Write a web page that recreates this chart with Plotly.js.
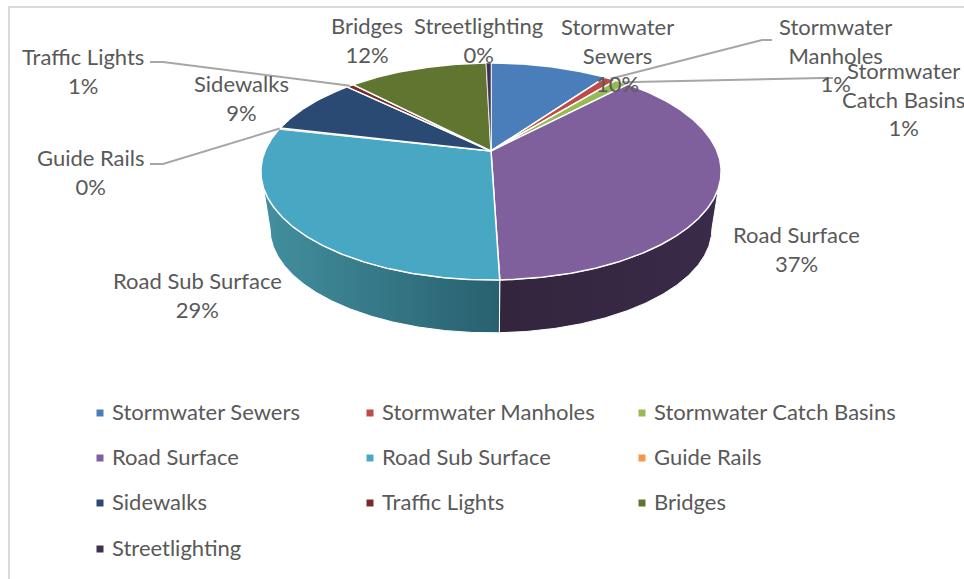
<!DOCTYPE html>
<html><head><meta charset="utf-8">
<script src="https://cdn.plot.ly/plotly-3.0.1.min.js"></script>
<style>html,body{margin:0;padding:0;background:#fff}#c{width:964px;height:579px}</style></head>
<body><div id="c"></div>
<script>
// Data
const categories = ['Stormwater Sewers','Stormwater Manholes','Stormwater Catch Basins','Road Surface','Road Sub Surface','Guide Rails','Sidewalks','Traffic Lights','Bridges','Streetlighting'];
const values = [9.9,1.0,1.2,37.4,29.0,0.2,8.5,0.6,11.8,0.4];
const colors = ['#4A7EBB','#BE4B48','#98B954','#7F609D','#48A8C4','#F79646','#2A4A73','#772C2A','#5F7530','#3F3151'];
const wallGradients = {3:['#32253C','#3A2B4A'],4:['#43909F','#28606F']};
// Label placement (centre x, centre y, wrapped name)
const labelWrap = ['Stormwater<br>Sewers','Stormwater<br>Manholes','Stormwater<br>Catch Basins','Road Surface','Road Sub Surface','Guide Rails','Sidewalks','Traffic Lights','Bridges','Streetlighting'];
const labelX = [617,835,903,796,197,91,241,83,367,478];
const labelY = [55,55,99,249,295,172,98,71,40,40];
// leader elbows: [slice index, start point, elbow]
const leaders = [[1,[772,40],[762,40]],[2,[833,78],[822,78]],[5,[150,164],[163,164]],[7,[150,62],[163,62]]];
// Legend grid
const legendCols = [100,370,642], legendRows = [413,458,503,549];

const FONT = 'Lato, sans-serif', GREY = '#595959';
const cx=491, cy=151, A=226, B=104.6, K=0.189, S=0.96, DY=58;
const total = values.reduce((a,b)=>a+b,0);
const top3 = t => { const X=Math.sin(t),Y=Math.cos(t),d=1+K*Y; return [A*X/d, B*Y/d]; };
const pt = t => { const p=top3(t); return [cx+p[0], cy-p[1]]; };
const low = t => { const p=top3(t); return [cx+p[0]*S, cy-p[1]*S+DY]; };
const arc = (a,b) => { const n=Math.max(2,Math.ceil((b-a)/0.008)),o=[]; for(let i=0;i<=n;i++)o.push(a+(b-a)*i/n); return o; };

let cum=0; const edges=values.map(v=>{const a=cum/total*2*Math.PI; cum+=v; return [a,cum/total*2*Math.PI];});
const wallMin=Math.acos(-K), wallMax=2*Math.PI-wallMin;
const traces=[];
edges.forEach(([a,b],i)=>{
  const lo=Math.max(a,wallMin), hi=Math.min(b,wallMax);
  if(hi<=lo) return;
  const ts=arc(lo,hi), up=ts.map(pt), dn=ts.map(low).reverse(), ring=up.concat(dn,[up[0]]);
  const g=wallGradients[i]||[colors[i],colors[i]];
  traces.push({type:'scatter',mode:'lines',x:ring.map(p=>p[0]),y:ring.map(p=>p[1]),fill:'toself',
    fillgradient:{type:'horizontal',colorscale:[[0,g[0]],[1,g[1]]]},
    line:{color:'#FFFFFF',width:1},hoverinfo:'skip',showlegend:false});
});
edges.forEach(([a,b],i)=>{
  const ring=[[cx,cy]].concat(arc(a,b).map(pt),[[cx,cy]]);
  traces.push({type:'scatter',mode:'lines',name:categories[i],x:ring.map(p=>p[0]),y:ring.map(p=>p[1]),fill:'toself',fillcolor:colors[i],
    line:{color:'#FFFFFF',width:values[i]<0.5?0.5:1.5},hoverinfo:'name',showlegend:false});
});
// Legend as marker+text trace on the same axes
const lx=categories.map((_,i)=>legendCols[i%3]), ly=categories.map((_,i)=>legendRows[Math.floor(i/3)]);
traces.push({type:'scatter',mode:'markers',x:lx,y:ly,marker:{symbol:'square',size:7,color:colors},hoverinfo:'skip',showlegend:false});
traces.push({type:'scatter',mode:'text',x:lx.map(v=>v+12),y:ly.map(v=>v+1),text:categories,textposition:'middle right',
  textfont:{family:FONT,size:22,color:GREY},hoverinfo:'skip',showlegend:false});

const annotations=categories.map((c,i)=>({x:labelX[i],y:labelY[i],xref:'x',yref:'y',xanchor:'center',yanchor:'middle',showarrow:false,
  text:labelWrap[i]+'<br>'+Math.round(values[i]/total*100)+'%',font:{family:FONT,size:22,color:GREY},align:'center'}));
const shapes=[
  {type:'path',path:'M 9 579 L 9 7 L 964 7',line:{color:'#D9D9D9',width:2},layer:'below'}
].concat(leaders.map(([i,s,e])=>{const m=(edges[i][0]+edges[i][1])/2,p=pt(m);
  return {type:'path',path:`M ${s[0]} ${s[1]} L ${e[0]} ${e[1]} L ${p[0].toFixed(1)} ${p[1].toFixed(1)}`,line:{color:'#A6A6A6',width:2},layer:'above'};}));

Plotly.newPlot('c',traces,{
  width:964,height:579,margin:{l:0,r:0,t:0,b:0},paper_bgcolor:'#FFFFFF',plot_bgcolor:'#FFFFFF',showlegend:false,
  xaxis:{range:[0,964],visible:false,fixedrange:true},
  yaxis:{range:[579,0],visible:false,fixedrange:true},
  annotations,shapes
},{displayModeBar:false});
</script></body></html>
